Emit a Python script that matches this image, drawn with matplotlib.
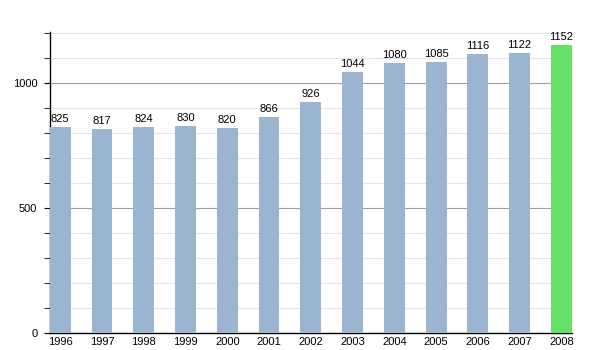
import matplotlib
matplotlib.use("Agg")
import matplotlib.pyplot as plt
from matplotlib.ticker import MultipleLocator

years = ["1996", "1997", "1998", "1999", "2000", "2001", "2002",
         "2003", "2004", "2005", "2006", "2007", "2008"]
values = [825, 817, 824, 830, 820, 866, 926, 1044, 1080, 1085, 1116, 1122, 1152]
colors = ["#9bb4cf"] * 12 + ["#66e066"]

plt.rcParams['font.family'] = ['Liberation Sans', 'DejaVu Sans']
fig = plt.figure(figsize=(6, 3.5), dpi=100)
ax = fig.add_axes([0.083, 0.049, 0.87, 0.86])

x = list(range(len(years)))
ax.bar(x, values, width=0.5, color=colors, zorder=3)
for xi, v in zip(x, values):
    ax.text(xi, v + 12, str(v), ha='center', va='bottom', fontsize=8, zorder=4)

ax.set_xlim(-0.25, 12.25)
ax.set_ylim(0, 1205)
ax.yaxis.set_major_locator(MultipleLocator(500))
ax.yaxis.set_minor_locator(MultipleLocator(100))
ax.grid(which='major', axis='y', color='#a0a0a0', linewidth=0.8, zorder=0)
ax.grid(which='minor', axis='y', color='#e4e4e4', linewidth=0.8, zorder=0)
ax.set_xticks(x)
ax.set_xticklabels(years, fontsize=8)
ax.tick_params(axis='x', length=0, pad=3)
ax.tick_params(axis='y', which='major', length=4, labelsize=8, pad=5)
ax.tick_params(axis='y', which='minor', length=4)
for s in ['top', 'right']:
    ax.spines[s].set_visible(False)
ax.spines['left'].set_linewidth(1)
ax.spines['bottom'].set_linewidth(1)

fig.savefig("out.png", dpi=100)
